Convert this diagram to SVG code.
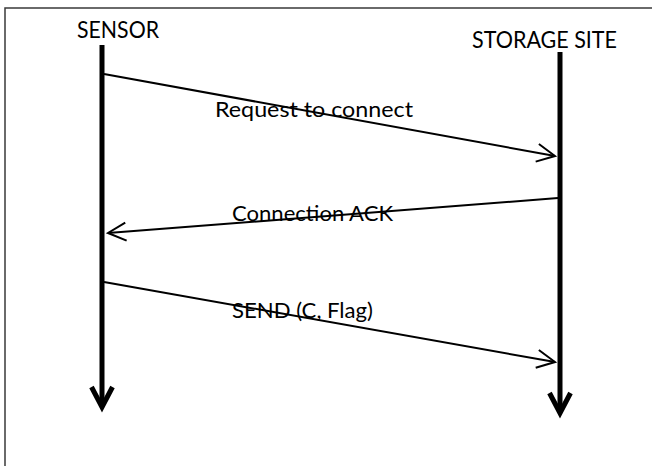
<svg xmlns="http://www.w3.org/2000/svg" width="652" height="466" viewBox="0 0 652 466">
  <style>
    .frame { fill: #ffffff; stroke: #3a3a3a; stroke-width: 1.5; }
    .life { stroke: #000; stroke-width: 5; fill: none; }
    .msg { stroke: #000; stroke-width: 2; fill: none; }
    .head { font-family: Lato, "Open Sans", sans-serif; font-size: 23px; fill: #000; }
    .lbl { font-family: Lato, "Open Sans", sans-serif; font-size: 21px; fill: #000; }
  </style>
  <defs>
    <marker id="lifeEnd" markerUnits="userSpaceOnUse" orient="auto" refX="0" refY="0" markerWidth="40" markerHeight="40" overflow="visible">
      <path d="M-20,-10.5 L0,0 L-20,10.5" fill="none" stroke="#000" stroke-width="5" stroke-linejoin="miter"/>
    </marker>
    <marker id="msgEnd" markerUnits="userSpaceOnUse" orient="auto" refX="0" refY="0" markerWidth="40" markerHeight="40" overflow="visible">
      <path d="M-18,-9 L0,0 L-18,9" fill="none" stroke="#000" stroke-width="2" stroke-linejoin="miter"/>
    </marker>
  </defs>

  <!-- outer frame; right and bottom edges run past the canvas -->
  <rect class="frame" x="5" y="8" width="700" height="520"/>

  <g id="sensor">
    <text class="head" x="77" y="38" textLength="82" lengthAdjust="spacingAndGlyphs">SENSOR</text>
    <line class="life" x1="102" y1="45" x2="102" y2="407" marker-end="url(#lifeEnd)"/>
  </g>

  <g id="storage-site">
    <text class="head" x="472" y="48" textLength="145" lengthAdjust="spacingAndGlyphs">STORAGE SITE</text>
    <line class="life" x1="560" y1="52" x2="560" y2="413" marker-end="url(#lifeEnd)"/>
  </g>

  <g id="connectors">
    <line class="msg" x1="104" y1="74" x2="555" y2="156" marker-end="url(#msgEnd)"/>
    <line class="msg" x1="558" y1="198" x2="108" y2="233" marker-end="url(#msgEnd)"/>
    <line class="msg" x1="104" y1="282" x2="555" y2="362" marker-end="url(#msgEnd)"/>
    <text class="lbl" x="215" y="117" textLength="198" lengthAdjust="spacingAndGlyphs">Request to connect</text>
    <text class="lbl" x="232" y="221" textLength="161" lengthAdjust="spacingAndGlyphs">Connection ACK</text>
    <text class="lbl" x="232" y="318" textLength="141" lengthAdjust="spacingAndGlyphs">SEND (C, Flag)</text>
  </g>
</svg>
